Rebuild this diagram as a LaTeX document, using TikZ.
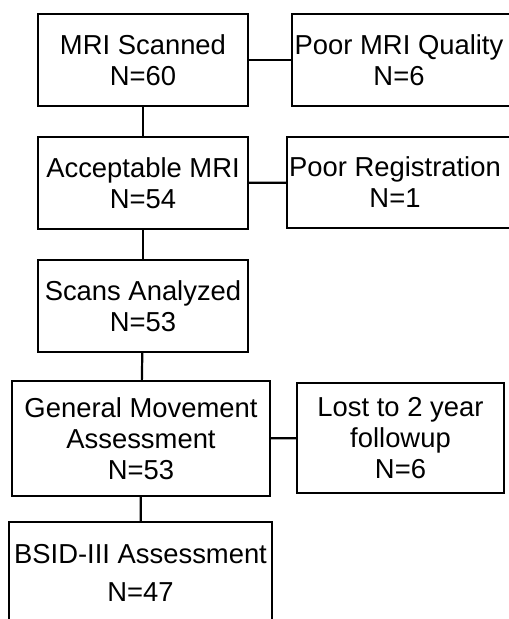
\documentclass[tikz,border=0pt]{standalone}
\usepackage{fontspec}
\setmainfont{Liberation Sans}
\usepackage{tikz}

\tikzset{
  flowbox/.style={draw, line width=1.2pt, align=center, inner sep=0pt,
    font=\fontsize{13.7}{15.5}\selectfont},
  link/.style={line width=1.1pt}
}

\begin{document}
\begin{tikzpicture}[x=0.5pt, y=-0.5pt]
    \useasboundingbox (0,0) rectangle (508,619);

    % main column
    \node[flowbox, minimum width=105pt, minimum height=46pt] (scanned) at (143,60) {MRI Scanned\\N=60};
    \node[flowbox, minimum width=105pt, minimum height=46pt] (acceptable) at (143,183) {Acceptable MRI\\N=54};
    \node[flowbox, minimum width=105pt, minimum height=46pt] (analyzed) at (143,306) {Scans Analyzed\\N=53};
    \node[flowbox, minimum width=129pt, minimum height=57.5pt] (gma) at (141,438.5) {General Movement\\Assessment\\N=53};
    \node[flowbox, minimum width=131.5pt, minimum height=51pt] (bsid) at (140.5,573) {BSID-III Assessment\\[3.5pt]N=47};

    % exclusions
    \node[flowbox, minimum width=113pt, minimum height=46pt] (quality) at (405,60) {\hspace*{-6pt}Poor MRI Quality\\\hspace*{-6pt}N=6};
    \node[flowbox, minimum width=116pt, minimum height=45.5pt] (registration) at (403,182.5) {\hspace*{-8pt}Poor Registration\\\hspace*{-8pt}N=1};
    \node[flowbox, minimum width=103.5pt, minimum height=55pt] (lost) at (400.5,438) {Lost to 2 year\\followup\\N=6};

    \draw[link] (scanned) -- (acceptable);
    \draw[link] (acceptable) -- (analyzed);
    \draw[link] (analyzed) -- (gma);
    \draw[link] (gma) -- (bsid);

    \draw[link] (scanned) -- (quality);
    \draw[link] (acceptable) -- (registration);
    \draw[link] (gma) -- (lost);
\end{tikzpicture}
\end{document}
